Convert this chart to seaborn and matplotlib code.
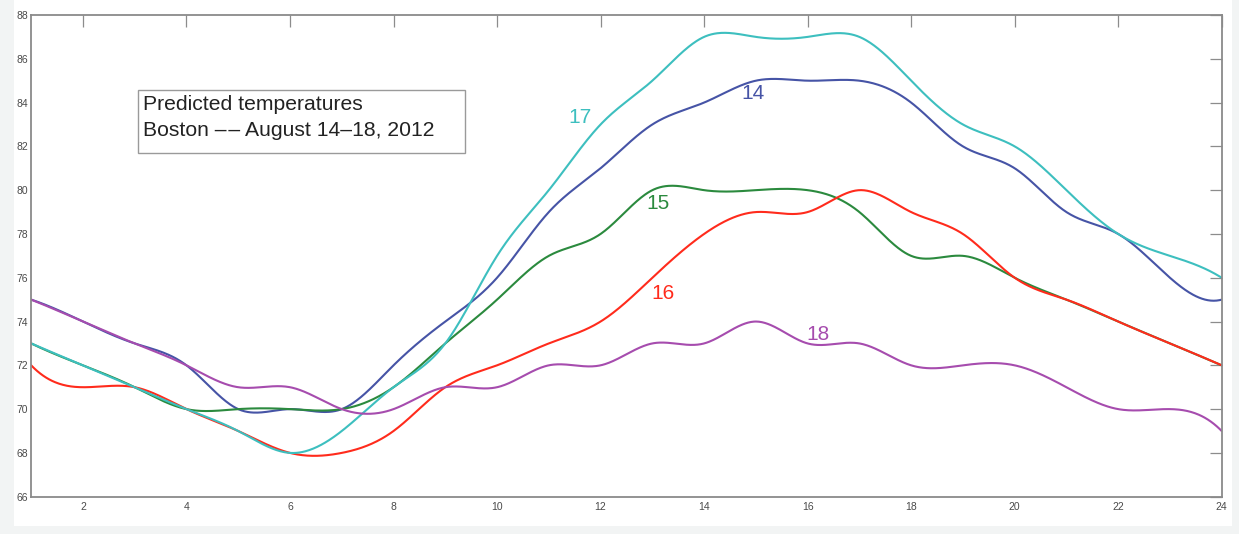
import numpy as np
import pandas as pd
import matplotlib
matplotlib.use("Agg")
import matplotlib.pyplot as plt
from matplotlib.patches import Rectangle
import seaborn as sns

# Hourly predicted temperatures (deg F), Boston, August 14-18, 2012
hours = list(range(1, 25))
aug14 = [75, 74, 73, 72, 70, 70, 70, 72, 74, 76, 79, 81, 83, 84, 85, 85, 85, 84, 82, 81, 79, 78, 76, 75]
aug15 = [73, 72, 71, 70, 70, 70, 70, 71, 73, 75, 77, 78, 80, 80, 80, 80, 79, 77, 77, 76, 75, 74, 73, 72]
aug16 = [72, 71, 71, 70, 69, 68, 68, 69, 71, 72, 73, 74, 76, 78, 79, 79, 80, 79, 78, 76, 75, 74, 73, 72]
aug17 = [73, 72, 71, 70, 69, 68, 69, 71, 73, 77, 80, 83, 85, 87, 87, 87, 87, 85, 83, 82, 80, 78, 77, 76]
aug18 = [75, 74, 73, 72, 71, 71, 70, 70, 71, 71, 72, 72, 73, 73, 74, 73, 73, 72, 72, 72, 71, 70, 70, 69]

days = ["14", "15", "16", "17", "18"]
series = [aug14, aug15, aug16, aug17, aug18]
colors = {"14": "#4654a6", "15": "#2b8a3e", "16": "#ff2b1c", "17": "#3dbfbf", "18": "#a64cae"}
# where each day's label sits (hour, temperature)
label_pos = {"14": (14.95, 84.4), "15": (13.1, 79.4), "16": (13.2, 75.3),
             "17": (11.6, 83.3), "18": (16.2, 73.4)}

x_ticks = list(range(2, 25, 2))
y_ticks = list(range(66, 89, 2))


def not_a_knot_spline(x, y, xq):
    """Cubic spline with not-a-knot end conditions on a uniform grid."""
    x = np.asarray(x, float)
    y = np.asarray(y, float)
    n = len(x)
    h = x[1] - x[0]
    A = np.zeros((n, n))
    b = np.zeros(n)
    A[0, :3] = [1, -2, 1]
    A[-1, -3:] = [1, -2, 1]
    for i in range(1, n - 1):
        A[i, i - 1:i + 2] = [1, 4, 1]
        b[i] = 6 * (y[i + 1] - 2 * y[i] + y[i - 1]) / h ** 2
    M = np.linalg.solve(A, b)
    idx = np.clip(((xq - x[0]) // h).astype(int), 0, n - 2)
    a = x[idx + 1] - xq
    c = xq - x[idx]
    return (M[idx] * a ** 3 / (6 * h) + M[idx + 1] * c ** 3 / (6 * h)
            + (y[idx] - M[idx] * h ** 2 / 6) * a / h
            + (y[idx + 1] - M[idx + 1] * h ** 2 / 6) * c / h)


xs = np.linspace(hours[0], hours[-1], 1200)
frames = []
for day, vals in zip(days, series):
    frames.append(pd.DataFrame({"hour": xs, "temp": not_a_knot_spline(hours, vals, xs), "day": day}))
df = pd.concat(frames, ignore_index=True)

sns.set_style("white")
plt.rcParams["font.family"] = ["Liberation Sans", "DejaVu Sans"]

fig = plt.figure(figsize=(12.39, 5.34), dpi=100)
fig.patch.set_facecolor("#f2f4f4")
fig.patches.append(Rectangle((14 / 1239, 1 - 526 / 534), (1232 - 14) / 1239, 526 / 534,
                             transform=fig.transFigure, facecolor="white", edgecolor="none", zorder=-5))

ax = fig.add_axes([31.2 / 1239, 1 - 496.7 / 534, (1221.7 - 31.2) / 1239, (496.7 - 15) / 534])
ax.set_facecolor("white")

sns.lineplot(data=df, x="hour", y="temp", hue="day", palette=colors, hue_order=days,
             linewidth=1.5, legend=False, ax=ax, sort=False, estimator=None)

for day in days:
    lx, ly = label_pos[day]
    ax.text(lx, ly, day, color=colors[day], fontsize=15, ha="center", va="center")

ax.set_xlim(1, 24)
ax.set_ylim(66, 88)
ax.set_xticks(x_ticks)
ax.set_yticks(y_ticks)
ax.set_xlabel("")
ax.set_ylabel("")
ax.tick_params(direction="in", length=8.5, width=0.9, color="#8c8c8c",
               labelsize=7.5, labelcolor="#4a4a4a", top=True, right=True,
               labeltop=False, labelright=False)
ax.tick_params(axis="x", pad=4)
ax.tick_params(axis="y", pad=2)
for side, sp in ax.spines.items():
    sp.set_visible(True)
    sp.set_color("#8a8a8a")
    sp.set_linewidth(1.3)

# title box
ax.add_patch(Rectangle((0.0897, 0.7135), 0.3644 - 0.0897, 0.8443 - 0.7135,
                       transform=ax.transAxes, facecolor="white", edgecolor="#9a9a9a",
                       linewidth=1.0, zorder=5))
ax.text(0.0939, 0.8132, "Predicted temperatures", transform=ax.transAxes,
        fontsize=15.2, color="#222222", va="center", ha="left", zorder=6)
ax.text(0.0939, 0.7592, "Boston \u2013\u200a\u2013 August 14\u201318, 2012", transform=ax.transAxes,
        fontsize=15.2, color="#222222", va="center", ha="left", zorder=6)

fig.savefig("out.png", dpi=100, facecolor=fig.get_facecolor())
